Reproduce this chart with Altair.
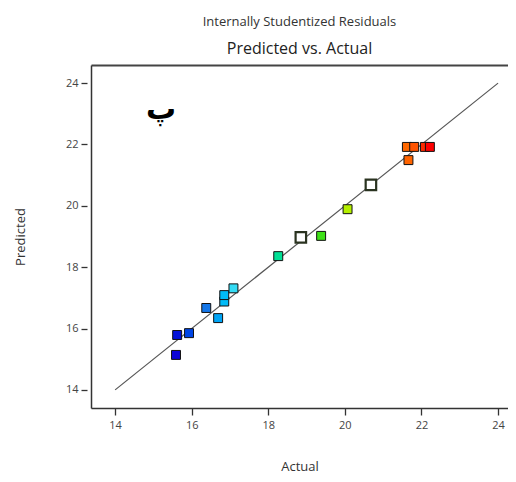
import altair as alt
import pandas as pd

# Data
actual = [15.59, 15.62, 15.93, 16.38, 16.69, 16.85, 16.85, 17.09, 18.26, 18.85,
          19.38, 20.07, 20.68, 21.62, 21.66, 21.81, 22.09, 22.22]
predicted = [15.14, 15.79, 15.85, 16.67, 16.34, 16.88, 17.09, 17.31, 18.36, 18.97,
             19.02, 19.89, 20.68, 21.92, 21.49, 21.92, 21.92, 21.92]
hollow = [0, 0, 0, 0, 0, 0, 0, 0, 0, 1, 0, 0, 1, 0, 0, 0, 0, 0]

line_x = [14, 24]
line_y = [14, 24]

x_ticks = [14, 16, 18, 20, 22, 24]
y_ticks = [14, 16, 18, 20, 22, 24]

label_text = ["پ"]
label_x = [15.2]
label_y = [23.12]

pts = pd.DataFrame({"actual": actual, "predicted": predicted, "hollow": hollow})
line_df = pd.DataFrame({"actual": line_x, "predicted": line_y})
lab_df = pd.DataFrame({"t": label_text, "actual": label_x, "predicted": label_y})

xs = alt.Scale(domain=[13.37, 24.26], nice=False, zero=False)
ys = alt.Scale(domain=[13.41, 24.59], nice=False, zero=False)

axis_col = "#333333"
font = "Open Sans"

color_scale = alt.Scale(
    domain=[15.6, 16.4, 17.1, 18.3, 19.4, 20.1, 21.6, 22.2],
    range=["#0a0ad8", "#1a78e8", "#38dcf4", "#10e090", "#40e010", "#b8f000", "#ff6a00", "#ff0000"],
)

frame = alt.Chart(line_df).mark_line(color="#555555", strokeWidth=1.2).encode(
    x=alt.X("actual:Q", scale=xs,
            axis=alt.Axis(orient="top", labels=False, ticks=False, grid=False, title="",
                          domain=True, domainColor="#444444", domainWidth=2)),
    y=alt.Y("predicted:Q", scale=ys,
            axis=alt.Axis(orient="left", labels=False, ticks=False, grid=False, title="",
                          domain=True, domainColor="#333333", domainWidth=1.5)),
)

filled = alt.Chart(pts).transform_filter("datum.hollow == 0").mark_point(
    shape="square", filled=True, size=80, stroke="#111111", strokeWidth=1, opacity=1
).encode(
    x=alt.X("actual:Q", scale=xs,
            axis=alt.Axis(orient="bottom", values=x_ticks, title="Actual", grid=False,
                          domain=True, domainColor="#333333", domainWidth=1.5,
                          tickColor=axis_col, tickSize=7, tickWidth=1.3,
                          labelFont=font, labelFontSize=11, labelColor="#444444", labelPadding=4,
                          titleFont=font, titleFontSize=13, titleFontWeight="normal",
                          titleColor="#333333", titlePadding=30)),
    y=alt.Y("predicted:Q", scale=ys,
            axis=alt.Axis(orient="left", values=y_ticks, title="Predicted", grid=False,
                          domain=False, offset=4,
                          tickColor=axis_col, tickSize=6, tickWidth=1.3,
                          labelFont=font, labelFontSize=11, labelColor="#444444", labelPadding=3,
                          titleFont=font, titleFontSize=13, titleFontWeight="normal",
                          titleColor="#333333", titlePadding=38)),
    fill=alt.Color("actual:Q", scale=color_scale, legend=None),
)

hol = alt.Chart(pts).transform_filter("datum.hollow == 1").mark_point(
    shape="square", filled=True, size=110, fill="white", stroke="#2a3320", strokeWidth=2.2, opacity=1
).encode(
    x=alt.X("actual:Q", scale=xs, axis=None),
    y=alt.Y("predicted:Q", scale=ys, axis=None),
)

lab = alt.Chart(lab_df).mark_text(
    font="DejaVu Sans", fontSize=30, fontWeight="bold", color="black", baseline="middle"
).encode(
    x=alt.X("actual:Q", scale=xs, axis=None),
    y=alt.Y("predicted:Q", scale=ys, axis=None),
    text="t:N",
)

chart = alt.layer(frame, filled, hol, lab).resolve_axis(
    x="independent", y="independent"
).properties(
    width=417,
    height=343,
    title=alt.TitleParams(
        "Internally Studentized Residuals",
        subtitle="Predicted vs. Actual",
        font=font, fontSize=13, fontWeight="normal", color="#333333",
        subtitleFont=font, subtitleFontSize=16, subtitleColor="#222222",
        subtitlePadding=12, anchor="middle", offset=8,
    ),
    padding={"left": 83, "top": 57, "right": 0, "bottom": 66},
    autosize=alt.AutoSizeParams(type="none"),
).configure_view(strokeWidth=0)

chart.save("out.html", embed_options={"renderer": "svg", "actions": False})
